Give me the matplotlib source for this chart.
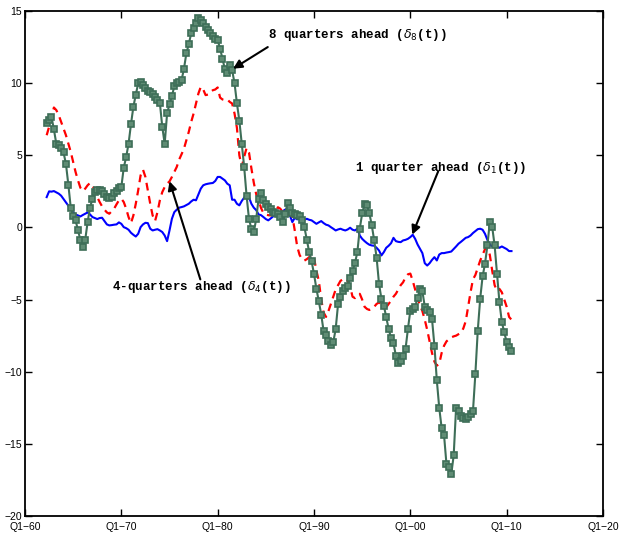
import numpy as np
import matplotlib
matplotlib.use('Agg')
import matplotlib.pyplot as plt

plt.rcParams['font.family'] = ['Liberation Sans', 'DejaVu Sans']

# quarterly data, first observation 1962 Q2
start_year = 1962.25

# 1 quarter ahead (blue)
delta1 = [2.1, 2.5, 2.48, 2.52, 2.43, 2.34, 2.2, 1.97, 1.74, 1.5, 1.27, 1.04, 0.9, 0.83, 0.76, 0.86,
          0.95, 1.04, 0.9, 0.72, 0.65, 0.58, 0.65, 0.67, 0.44, 0.21, 0.14, 0.16, 0.19, 0.21, 0.35, 0.25,
          0.02, -0.05, -0.16, -0.37, -0.51, -0.63, -0.44, 0.02, 0.21, 0.32, 0.3, -0.09, -0.21, -0.16, -0.12, -0.21,
          -0.32, -0.56, -0.95, -0.21, 0.6, 1.06, 1.23, 1.37, 1.41, 1.46, 1.55, 1.64, 1.8, 1.92, 1.88, 2.29,
          2.69, 2.92, 2.99, 3.03, 3.06, 3.08, 3.22, 3.5, 3.5, 3.38, 3.26, 3.03, 2.92, 1.92, 1.92, 1.64,
          1.53, 1.83, 2.06, 2.29, 2.1, 1.64, 1.37, 1.2, 0.9, 0.85, 0.72, 0.58, 0.49, 0.62, 0.76, 0.86,
          0.95, 1.04, 1.13, 1.23, 1.3, 0.83, 0.37, 0.67, 0.56, 0.6, 0.51, 0.53, 0.6, 0.53, 0.49, 0.37,
          0.25, 0.35, 0.44, 0.3, 0.19, 0.14, 0.02, -0.09, -0.21, -0.14, -0.09, -0.16, -0.21, -0.14, -0.02, -0.16,
          -0.21, -0.09, -0.56, -0.79, -0.95, -1.09, -1.2, -1.25, -1.27, -1.41, -1.6, -1.94, -1.71, -1.41, -1.27, -1.09,
          -0.72, -0.95, -1.0, -1.02, -0.9, -0.86, -0.79, -0.67, -0.51, -0.79, -1.18, -1.48, -1.78, -2.48, -2.64, -2.48,
          -2.25, -2.06, -2.29, -1.88, -1.78, -1.78, -1.74, -1.71, -1.67, -1.5, -1.32, -1.13, -1.0, -0.86, -0.72, -0.67,
          -0.56, -0.39, -0.25, -0.12, -0.09, -0.16, -0.44, -0.86, -1.18, -1.32, -1.25, -1.32, -1.41, -1.32, -1.41, -1.5,
          -1.64, -1.64]

# 4 quarters ahead (red dashed)
delta4 = [6.39, 6.97, 7.66, 8.31, 8.13, 7.78, 7.31, 6.85, 6.39, 5.81, 5.23, 4.54, 3.84, 3.26, 2.75, 2.52,
          2.69, 2.92, 3.08, 2.92, 2.57, 2.1, 1.76, 1.46, 1.23, 1.04, 0.95, 1.13, 1.3, 1.6, 1.88, 1.99,
          1.76, 1.3, 0.72, 0.3, 0.83, 1.64, 2.57, 3.61, 4.0, 3.5, 2.57, 1.64, 0.83, 0.44, 1.06, 1.88,
          2.45, 2.8, 3.03, 3.19, 3.5, 3.84, 4.19, 4.7, 5.07, 5.46, 6.04, 6.62, 7.31, 7.89, 8.59, 9.28,
          9.75, 9.56, 9.17, 9.21, 9.4, 9.51, 9.56, 9.7, 9.0, 8.87, 8.82, 8.87, 8.7, 8.59, 7.9, 6.9,
          5.0, 4.2, 4.9, 5.5, 5.2, 4.1, 3.1, 2.3, 1.9, 1.35, 1.0, 0.9, 0.85, 0.83, 0.95, 1.06,
          1.4, 1.3, 1.06, 0.95, 0.9, 0.85, 0.8, -0.2, -1.3, -1.9, -2.2, -2.3, -2.2, -2.06, -1.9, -2.1,
          -3.0, -3.7, -5.0, -5.9, -6.2, -5.8, -5.3, -4.8, -4.3, -4.0, -3.7, -3.6, -3.55, -3.7, -4.1, -4.8,
          -4.9, -4.7, -4.6, -5.0, -5.5, -5.65, -5.72, -5.65, -5.5, -5.3, -5.2, -5.3, -5.42, -5.53, -5.3, -5.07,
          -4.8, -4.6, -4.3, -4.0, -3.8, -3.45, -3.25, -3.2, -3.7, -4.3, -4.9, -5.4, -5.8, -6.4, -7.1, -7.9,
          -8.7, -9.3, -9.58, -9.45, -8.7, -8.2, -7.9, -7.75, -7.62, -7.55, -7.5, -7.4, -7.3, -7.0, -6.5, -5.5,
          -4.5, -3.6, -3.3, -2.8, -2.3, -1.9, -1.5, -1.4, -1.9, -3.0, -4.0, -4.4, -4.26, -4.5, -5.0, -5.5,
          -6.2, -6.4]

# 8 quarters ahead (green squares)
delta8 = [7.27, 7.43, 7.66, 6.79, 5.8, 5.7, 5.53, 5.2, 4.4, 2.96, 1.37, 0.76, 0.5, -0.2, -0.86, -1.37,
          -0.86, 0.37, 1.37, 2.0, 2.45, 2.6, 2.6, 2.5, 2.3, 2.1, 2.05, 2.1, 2.4, 2.55, 2.7, 2.8,
          4.14, 4.88, 5.8, 7.15, 8.36, 9.2, 9.98, 10.1, 9.86, 9.63, 9.47, 9.4, 9.24, 9.05, 8.82, 8.63,
          6.97, 5.8, 7.9, 8.54, 9.1, 9.79, 10.0, 10.1, 10.2, 11.0, 12.06, 12.7, 13.45, 13.8, 14.19, 14.5,
          14.4, 14.15, 13.9, 13.7, 13.5, 13.3, 13.08, 12.97, 12.4, 11.7, 10.97, 10.7, 11.27, 10.9, 10.0, 8.6,
          7.4, 5.8, 4.2, 2.2, 0.6, -0.1, -0.35, 0.6, 2.0, 2.4, 1.9, 1.6, 1.41, 1.3, 1.1, 1.0,
          0.95, 0.7, 0.35, 0.9, 1.7, 1.35, 1.0, 0.9, 0.83, 0.79, 0.5, 0.03, -0.85, -1.71, -2.34, -3.22,
          -4.26, -5.12, -6.04, -7.2, -7.43, -7.85, -8.12, -7.96, -7.04, -5.3, -4.79, -4.42, -4.19, -4.03, -3.5, -2.99,
          -2.48, -1.71, -0.09, 0.97, 1.64, 1.53, 0.97, 0.14, -0.9, -2.1, -3.91, -4.95, -5.42, -6.23, -7.04, -7.66,
          -8.03, -8.89, -9.42, -9.28, -8.89, -8.43, -7.04, -5.76, -5.65, -5.49, -4.88, -4.26, -4.42, -5.49, -5.72, -5.88,
          -6.34, -8.2, -10.6, -12.5, -13.9, -14.4, -16.4, -16.6, -17.1, -15.8, -12.5, -12.7, -13.06, -13.2, -13.3, -13.17,
          -12.94, -12.75, -10.16, -7.15, -4.95, -3.4, -2.52, -1.25, 0.37, 0.02, -1.25, -3.22, -5.19, -6.57, -7.27, -7.96,
          -8.31, -8.54]

tick_years = [1960, 1970, 1980, 1990, 2000, 2010, 2020]
tick_labels = ['Q1\u221260', 'Q1\u221270', 'Q1\u221280', 'Q1\u221290', 'Q1\u221200', 'Q1\u221210', 'Q1\u221220']

t = start_year + 0.25 * np.arange(len(delta8))

fig = plt.figure(figsize=(6.19, 5.36), dpi=100)
ax = fig.add_axes([25 / 619, 1 - 516 / 536, (603 - 25) / 619, (516 - 11) / 536])

ax.plot(t, delta1, color=(0, 0, 1), lw=1.5)
ax.plot(t, delta4, color=(1, 0, 0), lw=1.6, ls=(0, (3.5, 2.5)))
ax.plot(t, delta8, color='#3e6e58', lw=1.5, marker='s', ms=4.8, mew=1.2,
        mfc='#5f8c74', mec='#3e6e58')

ax.set_xlim(1960, 2020)
ax.set_ylim(-20, 15)
ax.set_xticks(tick_years)
ax.set_xticklabels(tick_labels)
ax.set_yticks(np.arange(-20, 16, 5))
ax.set_yticklabels([str(v).replace('-', '\u2212') for v in range(-20, 16, 5)])
ax.tick_params(direction='in', top=True, right=True, length=5, width=1, labelsize=7.5, pad=2)
ax.tick_params(axis='x', pad=4)
for s in ax.spines.values():
    s.set_linewidth(1.3)

txt = dict(family=['Liberation Mono', 'DejaVu Sans Mono'], weight='bold', fontsize=9, va='center', ha='left')
arr = dict(arrowstyle='-|>', color='k', lw=1.5, mutation_scale=13, shrinkA=0, shrinkB=0)

ax.text(1985.2, 13.35, r'8 quarters ahead ($\delta_8$(t))', **txt)
ax.annotate('', xy=(1981.6, 11.0), xytext=(1985.2, 12.5), arrowprops=arr)

ax.text(1994.3, 4.15, r'1 quarter ahead ($\delta_1$(t))', **txt)
ax.annotate('', xy=(2000.2, -0.5), xytext=(2002.9, 3.9), arrowprops=arr)

ax.text(1969.0, -4.15, r'4-quarters ahead ($\delta_4$(t))', **txt)
ax.annotate('', xy=(1975.0, 3.2), xytext=(1978.2, -3.6), arrowprops=arr)

fig.savefig('out.png', dpi=100)
